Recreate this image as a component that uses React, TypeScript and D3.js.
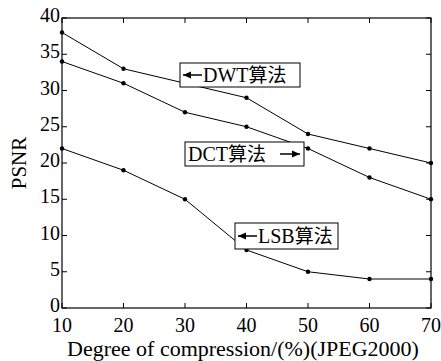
import React from 'react';
import { scaleLinear, line } from 'd3';

const xTicks = [10, 20, 30, 40, 50, 60, 70];
const yTicks = [0, 5, 10, 15, 20, 25, 30, 35, 40];
const compression = [10, 20, 30, 40, 50, 60, 70];
const dwt = [38, 33, 31, 29, 24, 22, 20];
const dct = [34, 31, 27, 25, 22, 18, 15];
const lsb = [22, 19, 15, 8, 5, 4, 4];

const W = 441;
const H = 361;
const M = { left: 62, right: 10, top: 18, bottom: 53 };
const FONT = "'Times New Roman', 'Liberation Serif', 'DejaVu Serif', serif";
const CJK = "'Noto Sans CJK SC', sans-serif";

// annotation boxes: x, y, w, h, label, arrow side
const notes = [
  { x: 180, y: 63, w: 120, h: 24, text: 'DWT', side: 'left' },
  { x: 185, y: 142, w: 119, h: 24, text: 'DCT', side: 'right' },
  { x: 235, y: 223, w: 103, h: 26, text: 'LSB', side: 'left' },
];

export default function App() {
  const x = scaleLinear().domain([10, 70]).range([M.left, W - M.right]);
  const y = scaleLinear().domain([0, 40]).range([H - M.bottom, M.top]);
  const path = line<number>()
    .x((_, i) => x(compression[i]))
    .y(d => y(d));

  const series = [dwt, dct, lsb];
  const x0 = x(10), x1 = x(70), y0 = y(0), y1 = y(40);

  return (
    <svg width={W} height={H} style={{ position: 'absolute', left: 0, top: 0, background: '#fff' }}>
      <rect x={x0} y={y1} width={x1 - x0} height={y0 - y1} fill="none" stroke="#000" strokeWidth={1.2} />
      {xTicks.map(t => (
        <g key={'x' + t}>
          <line x1={x(t)} x2={x(t)} y1={y0} y2={y0 - 5} stroke="#000" />
          <line x1={x(t)} x2={x(t)} y1={y1} y2={y1 + 5} stroke="#000" />
          <text x={x(t)} y={y0 + 24} textAnchor="middle" fontFamily={FONT} fontSize={20}>{t}</text>
        </g>
      ))}
      {yTicks.map(t => (
        <g key={'y' + t}>
          <line x1={x0} x2={x0 + 5} y1={y(t)} y2={y(t)} stroke="#000" />
          <line x1={x1} x2={x1 - 5} y1={y(t)} y2={y(t)} stroke="#000" />
          <text x={x0 - 2} y={y(t) + 4} textAnchor="end" fontFamily={FONT} fontSize={20}>{t}</text>
        </g>
      ))}
      {series.map((s, k) => (
        <g key={'s' + k}>
          <path d={path(s) || ''} fill="none" stroke="#000" strokeWidth={1} />
          {s.map((v, i) => (
            <circle key={i} cx={x(compression[i])} cy={y(v)} r={2.2} fill="#000" />
          ))}
        </g>
      ))}
      {notes.map(n => {
        const ay = n.y + n.h / 2;
        const left = n.side === 'left';
        const ax0 = left ? n.x + 3 : n.x + n.w - 24;
        const ax1 = left ? n.x + 22 : n.x + n.w - 4;
        const tx = left ? n.x + 23 : n.x + 3;
        return (
          <g key={n.text}>
            <rect x={n.x} y={n.y} width={n.w} height={n.h} fill="#fff" stroke="#000" strokeWidth={1} />
            <line x1={ax0} x2={ax1} y1={ay} y2={ay} stroke="#000" strokeWidth={1.5} />
            {left ? (
              <path d={`M${ax0},${ay} l8,-3.5 l0,7 z`} fill="#000" />
            ) : (
              <path d={`M${ax1},${ay} l-8,-3.5 l0,7 z`} fill="#000" />
            )}
            <text x={tx} y={ay + 7} fontFamily={FONT} fontSize={20}>
              {n.text}
              <tspan fontFamily={CJK} fontSize={19}>算法</tspan>
            </text>
          </g>
        );
      })}
      <text x={243} y={H - 5} textAnchor="middle" fontFamily={FONT} fontSize={22}>
        Degree of compression/(%)(JPEG2000)
      </text>
      <text transform={`translate(26,${(y0 + y1) / 2}) rotate(-90)`} textAnchor="middle" fontFamily={FONT} fontSize={21}>
        PSNR
      </text>
    </svg>
  );
}
